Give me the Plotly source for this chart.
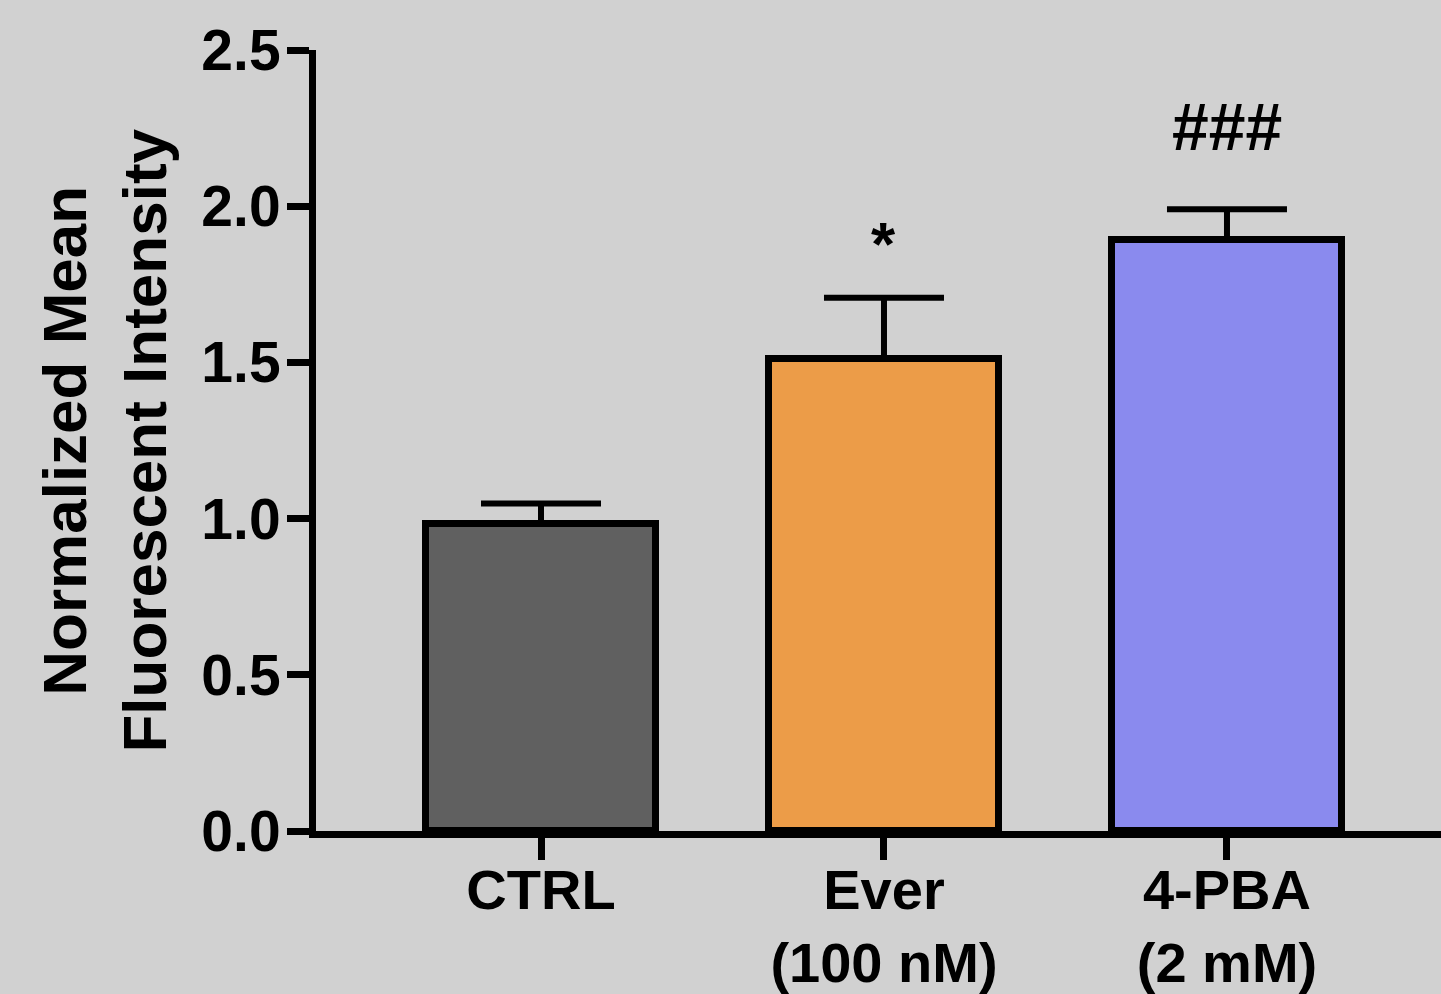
import plotly.graph_objects as go

categories = ["CTRL", "Ever<br>(100 nM)", "4-PBA<br>(2 mM)"]
means = [0.984, 1.511, 1.893]
errors = [0.064, 0.196, 0.097]
bar_colors = ["#606060", "#ec9c48", "#8a8aee"]
sig_labels = ["", "*", "###"]
sig_y = [None, 1.88, 2.255]
y_ticks = [0.0, 0.5, 1.0, 1.5, 2.0, 2.5]
y_ticklabels = ["0.0", "0.5", "1.0", "1.5", "2.0", "2.5"]

BG = "#d1d1d1"
FONT = "Liberation Sans"

x_idx = list(range(len(categories)))

fig = go.Figure()
fig.add_trace(go.Bar(
    x=x_idx, y=means, width=0.67,
    marker=dict(color=bar_colors, line=dict(color="black", width=7)),
    error_y=dict(type="data", symmetric=False, array=errors,
                 arrayminus=[0] * len(errors), color="black",
                 thickness=6, width=60),
    showlegend=False,
))

sig_sizes = [0, 62, 66]
for i, (lab, yy) in enumerate(zip(sig_labels, sig_y)):
    if lab:
        fig.add_annotation(x=i, y=yy, xref="x", yref="y", text=lab,
                           showarrow=False, yanchor="middle",
                           font=dict(family=FONT, size=sig_sizes[i], color="black",
                                     weight="bold"))

fig.add_annotation(x=-0.1884, y=0.5, xref="paper", yref="paper",
                   text="Normalized Mean<br>Fluorescent Intensity",
                   textangle=-90, showarrow=False,
                   xanchor="center", yanchor="middle",
                   font=dict(family=FONT, size=62, color="black", weight="bold"))

fig.update_layout(
    width=1441, height=994,
    paper_bgcolor=BG, plot_bgcolor=BG,
    margin=dict(l=316, r=0, t=50, b=163, autoexpand=False),
    bargap=0,
    xaxis=dict(
        range=[-0.656, 2.624], tickmode="array", tickvals=x_idx,
        ticktext=categories, showgrid=False, zeroline=False,
        showline=True, linecolor="black", linewidth=7, automargin=False,
        ticks="outside", ticklen=22, tickwidth=7, tickcolor="black",
        ticklabelstandoff=-18,
        tickfont=dict(family=FONT, size=56, color="black", weight="bold"),
    ),
    yaxis=dict(
        range=[0, 2.5], tickmode="array", tickvals=y_ticks,
        ticktext=y_ticklabels, showgrid=False, zeroline=False,
        showline=True, linecolor="black", linewidth=7, automargin=False,
        ticks="outside", ticklen=22, tickwidth=7, tickcolor="black",
        ticklabelstandoff=-5,
        tickfont=dict(family=FONT, size=57, color="black", weight="bold"),
    ),
)

fig.write_html(
    "out.html",
    config={"displayModeBar": False},
    post_script="document.body.style.margin='0';document.body.style.padding='0';"
                "document.documentElement.style.background='" + BG + "';"
                "document.body.style.background='" + BG + "';",
)
